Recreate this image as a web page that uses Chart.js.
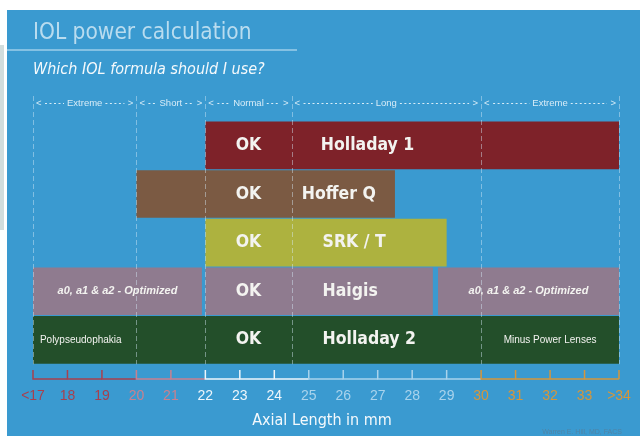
<!DOCTYPE html>
<html>
<head>
<meta charset="utf-8">
<title>IOL power calculation</title>
<script src="https://cdn.jsdelivr.net/npm/chart.js@4.4.1/dist/chart.umd.min.js"></script>
<style>
  body { margin: 0; background: #fff; }
  #wrap { width: 640px; height: 436px; }
</style>
</head>
<body>
<div id="wrap"><canvas id="iolChart" width="640" height="436"></canvas></div>
<script>
// Formulas, one row each, top to bottom
const formulas = ['Holladay 1', 'Hoffer Q', 'SRK / T', 'Haigis', 'Holladay 2'];
// Axial length range (mm) where each formula is OK to use
const mainRanges = [[22, 34], [20, 27.5], [22, 29], [22, 28.6], [17, 34]];
// Haigis also works at the extremes with optimized constants
const haigisShort = [17, 21.9];
const haigisLong = [28.75, 34];
const barColors = ['#7e2229', '#7b5a43', '#adb23f', '#8f7b8f', '#234f2a'];
// where the formula name starts inside its bar (mm)
const nameStart = [25.35, 24.8, 25.4, 25.4, 25.4];

// Eye length zones
const zoneEdges = [17, 20, 22, 24.5, 30, 34];
const zoneNames = ['Extreme', 'Short', 'Normal', 'Long', 'Extreme'];

// Axis ticks
const tickLabels = ['<17', '18', '19', '20', '21', '22', '23', '24', '25', '26',
                    '27', '28', '29', '30', '31', '32', '33', '>34'];

// Small notes written inside the bars
const notes = [
  { row: 3, range: haigisShort, text: 'a0, a1 & a2 - Optimized', style: 'italic bold 11px "Liberation Sans", Arial', align: 'center' },
  { row: 3, range: haigisLong, text: 'a0, a1 & a2 - Optimized', style: 'italic bold 11px "Liberation Sans", Arial', align: 'center' },
  { row: 4, range: [17.2, 20], text: 'Polypseudophakia', style: '10px "Liberation Sans", Arial', align: 'left' },
  { row: 4, range: [30, 34], text: 'Minus Power Lenses', style: '10px "Liberation Sans", Arial', align: 'center' }
];

const TAHOMA = '"DejaVu Sans Condensed", "DejaVu Sans", sans-serif';

function tickColor(v) {
  if (v < 20) return '#a8404e';
  if (v < 22) return '#c9808f';
  if (v < 25) return '#eef6fb';
  if (v < 30) return '#a9d3ec';
  return '#d6963a';
}

// Panel background, heading and zone captions
const backdrop = {
  id: 'backdrop',
  beforeDraw(chart) {
    const ctx = chart.ctx;
    const x = chart.scales.x;
    ctx.save();
    ctx.fillStyle = '#ffffff';
    ctx.fillRect(0, 0, chart.width, chart.height);
    ctx.fillStyle = '#d2dddd';
    ctx.fillRect(0, 45, 4, 185);
    ctx.fillStyle = '#3a9ad0';
    ctx.fillRect(7, 10, chart.width - 7, chart.height - 10);

    ctx.fillStyle = '#b9dcef';
    ctx.font = '22.5px ' + TAHOMA;
    ctx.textBaseline = 'middle';
    ctx.fillText('IOL power calculation', 33, 33);
    ctx.strokeStyle = 'rgba(200,228,244,0.7)';
    ctx.lineWidth = 1.5;
    ctx.beginPath();
    ctx.moveTo(7, 50);
    ctx.lineTo(297, 50);
    ctx.stroke();
    ctx.fillStyle = '#f4f9fc';
    ctx.font = 'italic 16px ' + TAHOMA;
    ctx.fillText('Which IOL formula should I use?', 33, 70);

    // zone captions  < - - - Extreme - - - >
    ctx.font = '9.5px "Liberation Sans", Arial';
    ctx.fillStyle = '#d8ecf7';
    ctx.strokeStyle = '#d8ecf7';
    ctx.lineWidth = 1;
    const cy = 103;
    for (let i = 0; i < zoneNames.length; i++) {
      const l = x.getPixelForValue(zoneEdges[i]) + 3;
      const r = x.getPixelForValue(zoneEdges[i + 1]) - 3;
      const mid = (l + r) / 2;
      const w = ctx.measureText(zoneNames[i]).width;
      ctx.textAlign = 'left';
      ctx.fillText('<', l, cy);
      ctx.textAlign = 'right';
      ctx.fillText('>', r, cy);
      ctx.textAlign = 'center';
      ctx.fillText(zoneNames[i], mid, cy);
      ctx.setLineDash([2, 2.5]);
      ctx.beginPath();
      ctx.moveTo(l + 9, cy + 0.5);
      ctx.lineTo(mid - w / 2 - 3, cy + 0.5);
      ctx.moveTo(mid + w / 2 + 3, cy + 0.5);
      ctx.lineTo(r - 9, cy + 0.5);
      ctx.stroke();
      ctx.setLineDash([]);
    }
    ctx.restore();
  }
};

// Zone dividers and the text inside the bars
const barText = {
  id: 'barText',
  afterDatasetsDraw(chart) {
    const ctx = chart.ctx;
    const x = chart.scales.x;
    const y = chart.scales.y;
    ctx.save();
    ctx.strokeStyle = 'rgba(215,236,248,0.45)';
    ctx.lineWidth = 1;
    ctx.setLineDash([5, 3]);
    zoneEdges.forEach(v => {
      const px = Math.round(x.getPixelForValue(v)) + 0.5;
      ctx.beginPath();
      ctx.moveTo(px, 96);
      ctx.lineTo(px, chart.chartArea.bottom);
      ctx.stroke();
    });
    ctx.setLineDash([]);

    ctx.fillStyle = '#f3f3f0';
    ctx.textBaseline = 'middle';
    const okAt = (zoneEdges[2] + zoneEdges[3]) / 2;
    formulas.forEach((name, i) => {
      const py = y.getPixelForValue(i);
      ctx.font = 'bold 17.5px ' + TAHOMA;
      ctx.textAlign = 'center';
      ctx.fillText('OK', x.getPixelForValue(okAt), py);
      ctx.textAlign = 'left';
      ctx.fillText(name, x.getPixelForValue(nameStart[i]), py);
    });

    notes.forEach(n => {
      const py = y.getPixelForValue(n.row);
      ctx.font = n.style;
      ctx.textAlign = n.align;
      const at = n.align === 'center' ? (n.range[0] + n.range[1]) / 2 : n.range[0];
      ctx.fillText(n.text, x.getPixelForValue(at), py);
    });
    ctx.restore();
  }
};

// Ruler under the bars, coloured by zone, plus the axis title
const ruler = {
  id: 'ruler',
  afterDraw(chart) {
    const ctx = chart.ctx;
    const x = chart.scales.x;
    const base = 379;
    ctx.save();
    ctx.lineWidth = 1.5;
    for (let v = 17; v <= 34; v++) {
      ctx.strokeStyle = tickColor(v);
      const px = x.getPixelForValue(v);
      ctx.beginPath();
      ctx.moveTo(px, base - 9);
      ctx.lineTo(px, base);
      if (v < 34) ctx.lineTo(x.getPixelForValue(v + 1), base);
      ctx.stroke();
    }
    ctx.fillStyle = '#f4f9fc';
    ctx.font = '16px ' + TAHOMA;
    ctx.textAlign = 'center';
    ctx.textBaseline = 'middle';
    ctx.fillText('Axial Length in mm', (chart.chartArea.left + chart.chartArea.right) / 2 - 4, 421);

    ctx.fillStyle = '#4f84a6';
    ctx.font = '7px "Liberation Sans", Arial';
    ctx.textAlign = 'right';
    ctx.fillText('Warren E. Hill, MD, FACS', 622, 432);
    ctx.restore();
  }
};

new Chart(document.getElementById('iolChart'), {
  type: 'bar',
  data: {
    labels: formulas,
    datasets: [
      {
        data: mainRanges,
        backgroundColor: barColors
      },
      {
        data: formulas.map((f, i) => (i === 3 ? haigisShort : null)),
        backgroundColor: barColors[3]
      },
      {
        data: formulas.map((f, i) => (i === 3 ? haigisLong : null)),
        backgroundColor: barColors[3]
      }
    ]
  },
  options: {
    indexAxis: 'y',
    responsive: false,
    animation: false,
    layout: { padding: { left: 33, right: 21, top: 121, bottom: 7 } },
    datasets: {
      bar: { grouped: false, barPercentage: 1, categoryPercentage: 0.98, borderWidth: 0 }
    },
    plugins: {
      legend: { display: false },
      tooltip: { enabled: false },
      title: { display: false }
    },
    scales: {
      y: { display: false },
      x: {
        type: 'linear',
        min: 17,
        max: 34,
        grid: { display: false, drawTicks: false },
        border: { display: false },
        ticks: {
          stepSize: 1,
          autoSkip: false,
          maxRotation: 0,
          padding: 24,
          font: { family: '"Liberation Sans", Arial', size: 14 },
          color: ctx => tickColor(ctx.tick.value),
          callback: (v, i) => tickLabels[i]
        },
        // edge labels fit inside the layout padding already
        afterFit(scale) {
          scale.paddingLeft = 0;
          scale.paddingRight = 0;
        }
      }
    }
  },
  plugins: [backdrop, barText, ruler]
});
</script>
</body>
</html>
